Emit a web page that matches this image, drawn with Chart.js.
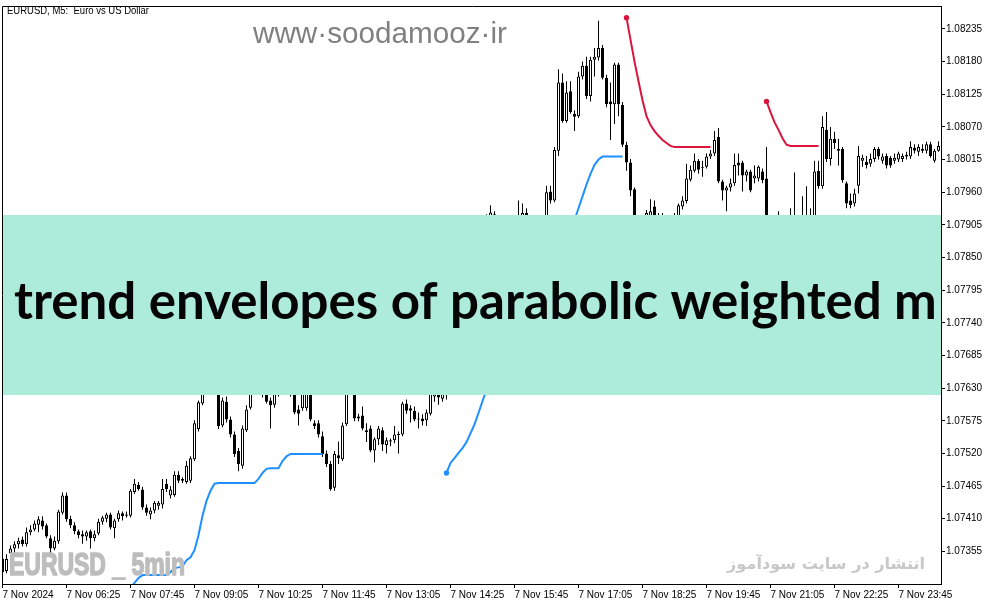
<!DOCTYPE html>
<html><head><meta charset="utf-8">
<script src="https://cdn.jsdelivr.net/npm/chart.js@4.4.1/dist/chart.umd.min.js"></script>
<style>html,body{margin:0;padding:0;background:#fff;overflow:hidden}canvas{display:block}</style>
</head><body>
<canvas id="c" width="994" height="605"></canvas>
<script>
// EURUSD M5, 7 Nov 2024, bars from 05:05 (index 0), 5 minutes each
const opens = [
 1.07343,1.07322,1.07352,1.07360,1.07367,1.07375,1.07367,1.07387,1.07392,1.07400,
 1.07407,1.07399,1.07377,1.07360,1.07372,1.07420,1.07449,1.07410,1.07399,1.07389,
 1.07384,1.07380,1.07389,1.07377,1.07385,1.07405,1.07410,1.07417,1.07394,1.07409,
 1.07419,1.07415,1.07415,1.07455,1.07467,1.07459,1.07429,1.07417,1.07424,1.07432,
 1.07434,1.07469,1.07449,1.07450,1.07484,1.07474,1.07472,1.07474,1.07510,1.07561,
 1.07604,1.07624,1.07654,1.07632,1.07641,1.07567,1.07607,1.07577,1.07552,1.07524,
 1.07499,1.07559,1.07597,1.07632,1.07657,1.07641,1.07624,1.07609,1.07602,1.07621,
 1.07637,1.07657,1.07632,1.07621,1.07594,1.07596,1.07596,1.07621,1.07571,1.07571,
 1.07549,1.07520,1.07502,1.07462,1.07517,1.07510,1.07569,1.07632,1.07632,1.07582,
 1.07584,1.07559,1.07562,1.07525,1.07544,1.07559,1.07534,1.07542,1.07542,1.07552,
 1.07552,1.07604,1.07596,1.07592,1.07577,1.07579,1.07576,1.07587,1.07616,1.07621,
 1.07612,1.07621,1.07654,1.07699,1.07682,1.07738,1.07774,1.07758,1.07804,1.07841,
 1.07821,1.07911,1.07920,1.07923,1.07911,1.07895,1.07874,1.07888,1.07905,1.07911,
 1.07916,1.07925,1.07913,1.07900,1.07911,1.07895,1.07905,1.07961,1.07946,1.08030,
 1.08145,1.08080,1.08130,1.08092,1.08088,1.08155,1.08173,1.08122,1.08183,1.08187,
 1.08203,1.08153,1.08113,1.08108,1.08175,1.08107,1.08040,1.08010,1.07965,1.07891,
 1.07866,1.07913,1.07911,1.07936,1.07918,1.07905,1.07915,1.07900,1.07911,1.07918,
 1.07936,1.07945,1.07981,1.07996,1.08013,1.08003,1.08003,1.08020,1.08025,1.08053,
 1.07978,1.07963,1.07968,1.07975,1.08010,1.08010,1.07988,1.07995,1.07983,1.07983,
 1.07995,1.07983,1.07891,1.07858,1.07881,1.07898,1.07874,1.07849,1.07898,1.07908,
 1.07883,1.07900,1.07891,1.07915,1.07996,1.07970,1.08065,1.08016,1.08050,1.08030,
 1.08033,1.07975,1.07946,1.07941,1.07971,1.08013,1.08011,1.08008,1.08016,1.08033,
 1.08013,1.08021,1.08018,1.08013,1.08015,1.08016,1.08023,1.08020,1.08035,1.08028,
 1.08030,1.08030,1.08041,1.08013,1.08030];
const highs = [
 1.07348,1.07350,1.07365,1.07372,1.07378,1.07380,1.07395,1.07399,1.07407,1.07414,
 1.07414,1.07402,1.07382,1.07380,1.07425,1.07454,1.07454,1.07415,1.07404,1.07392,
 1.07390,1.07390,1.07392,1.07390,1.07410,1.07415,1.07420,1.07420,1.07410,1.07424,
 1.07422,1.07422,1.07460,1.07477,1.07472,1.07464,1.07434,1.07429,1.07440,1.07440,
 1.07477,1.07477,1.07465,1.07490,1.07490,1.07480,1.07507,1.07515,1.07576,1.07609,
 1.07632,1.07666,1.07661,1.07654,1.07649,1.07614,1.07616,1.07582,1.07557,1.07529,
 1.07567,1.07601,1.07641,1.07666,1.07671,1.07649,1.07632,1.07614,1.07632,1.07649,
 1.07666,1.07666,1.07641,1.07627,1.07601,1.07627,1.07632,1.07627,1.07576,1.07576,
 1.07557,1.07525,1.07507,1.07524,1.07540,1.07572,1.07641,1.07657,1.07641,1.07587,
 1.07599,1.07571,1.07567,1.07547,1.07566,1.07564,1.07547,1.07545,1.07566,1.07557,
 1.07607,1.07611,1.07601,1.07599,1.07589,1.07586,1.07594,1.07632,1.07641,1.07632,
 1.07632,1.07666,1.07707,1.07711,1.07749,1.07788,1.07783,1.07821,1.07849,1.07854,
 1.07911,1.07923,1.07938,1.07928,1.07913,1.07900,1.07895,1.07911,1.07910,1.07946,
 1.07941,1.07933,1.07915,1.07913,1.07913,1.07913,1.07971,1.07971,1.08036,1.08167,
 1.08160,1.08147,1.08147,1.08098,1.08163,1.08180,1.08188,1.08188,1.08203,1.08249,
 1.08208,1.08158,1.08145,1.08178,1.08178,1.08112,1.08045,1.08016,1.07968,1.07900,
 1.07911,1.07930,1.07948,1.07946,1.07925,1.07925,1.07921,1.07918,1.07925,1.07941,
 1.07953,1.08008,1.08005,1.08025,1.08016,1.08013,1.08025,1.08031,1.08063,1.08068,
 1.07981,1.07971,1.07983,1.08025,1.08025,1.08013,1.07998,1.07998,1.08005,1.08005,
 1.08000,1.08036,1.07900,1.07900,1.07928,1.07905,1.07883,1.07933,1.07993,1.07911,
 1.07953,1.07970,1.07933,1.08013,1.08013,1.08088,1.08095,1.08070,1.08062,1.08050,
 1.08036,1.07978,1.07958,1.07966,1.08038,1.08023,1.08021,1.08025,1.08036,1.08036,
 1.08025,1.08025,1.08021,1.08025,1.08028,1.08025,1.08028,1.08046,1.08041,1.08041,
 1.08041,1.08045,1.08045,1.08033,1.08046];
const lows = [
 1.07315,1.07318,1.07347,1.07353,1.07360,1.07363,1.07363,1.07382,1.07389,1.07387,
 1.07392,1.07377,1.07345,1.07357,1.07368,1.07417,1.07405,1.07394,1.07384,1.07377,
 1.07368,1.07373,1.07360,1.07372,1.07382,1.07400,1.07404,1.07392,1.07377,1.07405,
 1.07407,1.07412,1.07412,1.07452,1.07457,1.07425,1.07415,1.07409,1.07419,1.07425,
 1.07427,1.07455,1.07444,1.07447,1.07470,1.07470,1.07469,1.07470,1.07507,1.07557,
 1.07601,1.07621,1.07624,1.07624,1.07561,1.07564,1.07572,1.07547,1.07514,1.07490,
 1.07494,1.07556,1.07594,1.07627,1.07634,1.07614,1.07604,1.07562,1.07597,1.07616,
 1.07632,1.07627,1.07616,1.07586,1.07567,1.07592,1.07592,1.07574,1.07561,1.07547,
 1.07514,1.07497,1.07457,1.07457,1.07502,1.07507,1.07566,1.07624,1.07574,1.07574,
 1.07559,1.07539,1.07522,1.07505,1.07534,1.07524,1.07520,1.07532,1.07537,1.07520,
 1.07549,1.07587,1.07572,1.07574,1.07562,1.07567,1.07566,1.07584,1.07607,1.07602,
 1.07607,1.07611,1.07649,1.07674,1.07677,1.07731,1.07744,1.07751,1.07794,1.07814,
 1.07816,1.07900,1.07915,1.07905,1.07888,1.07866,1.07861,1.07881,1.07891,1.07905,
 1.07911,1.07908,1.07891,1.07888,1.07885,1.07888,1.07900,1.07941,1.07943,1.08021,
 1.08077,1.08077,1.08092,1.08063,1.08085,1.08150,1.08117,1.08113,1.08155,1.08182,
 1.08150,1.08103,1.08048,1.08075,1.08088,1.08036,1.07996,1.07953,1.07883,1.07858,
 1.07861,1.07900,1.07905,1.07905,1.07895,1.07898,1.07891,1.07891,1.07888,1.07911,
 1.07931,1.07941,1.07978,1.07993,1.07991,1.07986,1.08000,1.08016,1.08021,1.07975,
 1.07946,1.07928,1.07961,1.07971,1.07988,1.07961,1.07978,1.07960,1.07975,1.07978,
 1.07975,1.07874,1.07841,1.07849,1.07874,1.07861,1.07838,1.07844,1.07888,1.07874,
 1.07878,1.07891,1.07883,1.07908,1.07966,1.07966,1.08011,1.08005,1.08033,1.08005,
 1.07976,1.07933,1.07933,1.07936,1.07958,1.08003,1.08000,1.08003,1.08011,1.08015,
 1.08008,1.08000,1.08001,1.08008,1.08011,1.08011,1.08015,1.08016,1.08025,1.08021,
 1.08026,1.08025,1.08018,1.08010,1.08028];
const closes = [
 1.07320,1.07342,1.07360,1.07367,1.07373,1.07367,1.07387,1.07392,1.07402,1.07409,
 1.07397,1.07380,1.07360,1.07373,1.07422,1.07449,1.07409,1.07399,1.07389,1.07382,
 1.07380,1.07387,1.07377,1.07384,1.07405,1.07412,1.07417,1.07395,1.07407,1.07419,
 1.07414,1.07417,1.07457,1.07469,1.07460,1.07429,1.07420,1.07424,1.07437,1.07437,
 1.07460,1.07460,1.07459,1.07484,1.07474,1.07477,1.07499,1.07512,1.07571,1.07606,
 1.07624,1.07657,1.07632,1.07644,1.07566,1.07609,1.07577,1.07552,1.07519,1.07502,
 1.07562,1.07594,1.07632,1.07657,1.07641,1.07624,1.07607,1.07601,1.07621,1.07641,
 1.07657,1.07632,1.07621,1.07589,1.07587,1.07621,1.07624,1.07577,1.07566,1.07552,
 1.07519,1.07502,1.07460,1.07519,1.07512,1.07567,1.07632,1.07649,1.07579,1.07579,
 1.07562,1.07556,1.07525,1.07544,1.07562,1.07535,1.07542,1.07540,1.07552,1.07551,
 1.07604,1.07592,1.07592,1.07577,1.07579,1.07574,1.07589,1.07624,1.07627,1.07614,
 1.07624,1.07657,1.07699,1.07682,1.07741,1.07774,1.07758,1.07808,1.07841,1.07821,
 1.07900,1.07920,1.07926,1.07915,1.07895,1.07874,1.07888,1.07905,1.07898,1.07918,
 1.07925,1.07916,1.07900,1.07911,1.07895,1.07908,1.07960,1.07946,1.08031,1.08145,
 1.08080,1.08128,1.08095,1.08087,1.08155,1.08173,1.08122,1.08183,1.08188,1.08203,
 1.08153,1.08108,1.08108,1.08175,1.08108,1.08040,1.08010,1.07963,1.07891,1.07866,
 1.07900,1.07925,1.07928,1.07913,1.07908,1.07915,1.07901,1.07911,1.07898,1.07938,
 1.07946,1.07983,1.07998,1.08013,1.07998,1.08001,1.08020,1.08025,1.08048,1.07978,
 1.07963,1.07968,1.07975,1.08006,1.08005,1.07988,1.07995,1.07963,1.07988,1.08003,
 1.07980,1.07891,1.07858,1.07883,1.07900,1.07874,1.07849,1.07900,1.07908,1.07883,
 1.07905,1.07911,1.07921,1.07995,1.07970,1.08070,1.08016,1.08050,1.08043,1.08033,
 1.07980,1.07941,1.07938,1.07958,1.08021,1.08018,1.08006,1.08016,1.08033,1.08020,
 1.08020,1.08005,1.08005,1.08018,1.08025,1.08021,1.08020,1.08036,1.08030,1.08036,
 1.08033,1.08041,1.08021,1.08030,1.08038];

// envelope segments: [first bar index, values]
const upEnvelope = [
 [31, [1.07285,1.07293,1.07302,1.07310,1.07315,1.07315,1.07315,1.07315,1.07315,1.07315,1.07315,
       1.07320,1.07327,1.07328,1.07330,1.07340,1.07345,1.07357,1.07382,1.07415,1.07440,1.07457,1.07469,
       1.07470,1.07470,1.07470,1.07470,1.07470,1.07470,1.07470,1.07470,1.07470,1.07470,
       1.07477,1.07487,1.07494,1.07495,1.07495,1.07495,1.07507,1.07515,
       1.07519,1.07519,1.07519,1.07519,1.07519,1.07519,1.07519,1.07519,1.07519]],
 [111, [1.07487,1.07504,1.07512,1.07521,1.07529,1.07539,1.07554,1.07569,1.07588,1.07608,
        1.07627,1.07649,1.07671,1.07691,1.07707,1.07721,1.07733,1.07744,1.07758,1.07771,
        1.07783,1.07791,1.07799,1.07808,1.07816,1.07828,1.07841,1.07854,1.07868,1.07881,
        1.07893,1.07903,1.07913,1.07933,1.07953,1.07973,1.07991,1.08006,1.08015,1.08020,
        1.08020,1.08020,1.08020,1.08020,1.08020]],
 [178, [1.07724,1.07740,1.07755,1.07770,1.07785,1.07800,1.07812,1.07822,1.07830,1.07836,1.07840,1.07842,1.07843]],
 [205, [1.07724,1.07740,1.07756,1.07770,1.07783,1.07795,1.07806,1.07816,1.07825,1.07833,
        1.07840,1.07847,1.07853,1.07859,1.07865,1.07870,1.07875,1.07880,1.07884,1.07888,
        1.07892,1.07895,1.07898,1.07900,1.07902,1.07905,1.07918,1.07918,1.07918,1.07918]]
];
const downEnvelope = [
 [81, [1.07724,1.07716,1.07707,1.07699,1.07691,1.07684,1.07679,
       1.07674,1.07674,1.07674,1.07674,1.07674,1.07674,1.07674,1.07674,1.07674,1.07674,1.07674,1.07674,
       1.07674,1.07674,1.07674,1.07674,1.07674,1.07674,1.07674,1.07674,1.07674,1.07674,1.07674]],
 [156, [1.08254,1.08217,1.08180,1.08147,1.08115,1.08088,1.08073,1.08063,1.08055,1.08048,1.08043,1.08038,
        1.08036,1.08036,1.08036,1.08036,1.08036,1.08036,1.08036,1.08036,1.08036,1.08036]],
 [191, [1.08113,1.08095,1.08078,1.08065,1.08051,1.08040,1.08038,1.08038,1.08038,1.08038,1.08038,1.08038,1.08038,1.08038]]
];

const priceTicks = [1.07355,1.07410,1.07465,1.07520,1.07575,1.07630,1.07685,1.07740,1.07795,
                    1.07850,1.07905,1.07960,1.08015,1.08070,1.08125,1.08180,1.08235];
const timeTickIndex = [0,16,32,48,64,80,96,112,128,144,160,176,192,208,224];
const timeTickLabels = ['7 Nov 2024','7 Nov 06:25','7 Nov 07:45','7 Nov 09:05','7 Nov 10:25',
  '7 Nov 11:45','7 Nov 13:05','7 Nov 14:25','7 Nov 15:45','7 Nov 17:05','7 Nov 18:25',
  '7 Nov 19:45','7 Nov 21:05','7 Nov 22:25','7 Nov 23:45'];

const N = opens.length;
const wickData = opens.map((o, i) => ({x: i, y: [lows[i], highs[i]]}));
const bodyData = opens.map((o, i) => ({x: i, y: [o, closes[i]]}));
const bodyFill = opens.map((o, i) => closes[i] >= o ? '#ffffff' : '#000000');

function buildLine(segs) {
  const vals = new Array(N).fill(null);
  const radius = new Array(N).fill(0);
  segs.forEach(([s, v]) => { v.forEach((p, k) => { vals[s + k] = p; }); radius[s] = 2.7; });
  return {data: vals.map((v, i) => ({x: i, y: v})), radius};
}
const up = buildLine(upEnvelope);
const dn = buildLine(downEnvelope);

const F = '"Liberation Sans", Arial, sans-serif';

const overlay = {
  id: 'overlay',
  afterDraw(chart) {
    const ctx = chart.ctx, a = chart.chartArea;
    ctx.save();
    // frame
    ctx.strokeStyle = '#000'; ctx.lineWidth = 1;
    ctx.beginPath();
    ctx.moveTo(a.left + 0.5, a.bottom);
    ctx.lineTo(a.left + 0.5, a.top - 0.5);
    ctx.lineTo(a.right + 1, a.top - 0.5);
    ctx.stroke();

    // title
    ctx.fillStyle = '#000'; ctx.textAlign = 'left'; ctx.textBaseline = 'alphabetic';
    let t = 'EURUSD, M5:  Euro vs US Dollar';
    ctx.font = '10px ' + F;
    let w = ctx.measureText(t).width;
    ctx.save(); ctx.translate(7, 14); ctx.scale(142 / w, 1); ctx.fillText(t, 0, 0); ctx.restore();

    // watermark www
    t = 'www\u00B7soodamooz\u00B7ir';
    ctx.font = '29px ' + F;
    w = ctx.measureText(t).width;
    ctx.font = (29 * 254 / w).toFixed(2) + 'px ' + F;
    ctx.fillStyle = '#808080';
    ctx.fillText(t, 253, 43);

    // EURUSD _ 5min
    t = 'EURUSD _ 5min';
    ctx.font = 'bold 30.5px ' + F;
    w = ctx.measureText(t).width;
    ctx.save();
    ctx.translate(9, 575);
    ctx.scale(176 / w, 1);
    ctx.fillStyle = '#bdbdbd';
    ctx.strokeStyle = '#bdbdbd';
    ctx.lineWidth = 1.6;
    ctx.lineJoin = 'round';
    ctx.strokeText(t, 0, 0);
    ctx.fillText(t, 0, 0);
    ctx.restore();

    // persian
    t = 'انتشار در سایت سودآموز';
    ctx.font = 'bold 20px "DejaVu Sans", sans-serif';
    ctx.direction = 'rtl';
    w = ctx.measureText(t).width;
    ctx.font = 'bold ' + (20 * 198 / w).toFixed(2) + 'px "DejaVu Sans", sans-serif';
    ctx.fillStyle = '#c8c8c8';
    ctx.textAlign = 'right';
    ctx.fillText(t, 925, 569);
    ctx.direction = 'ltr';
    ctx.textAlign = 'left';

    // banner
    ctx.fillStyle = '#ADEBDB';
    ctx.fillRect(3, 215, 938, 180);
    ctx.save();
    ctx.beginPath(); ctx.rect(3, 215, 938, 180); ctx.clip();
    t = 'trend envelopes of parabolic weighted m';
    const BF = 'Lato, "Open Sans", sans-serif';
    ctx.font = 'bold 44px ' + BF;
    w = ctx.measureText(t).width;
    ctx.font = 'bold ' + (44 * 923 / w).toFixed(2) + 'px ' + BF;
    ctx.fillStyle = '#050505';
    ctx.fillText(t, 14, 319);
    ctx.restore();

    ctx.restore();
  }
};

new Chart(document.getElementById('c'), {
  type: 'bar',
  data: {
    datasets: [
      {type: 'line', data: up.data, borderColor: '#1E90FF', backgroundColor: '#1E90FF', borderWidth: 2,
       pointRadius: up.radius, pointBorderWidth: 0, pointBackgroundColor: '#1E90FF', tension: 0, spanGaps: false, order: 0},
      {type: 'line', data: dn.data, borderColor: '#DC143C', backgroundColor: '#DC143C', borderWidth: 2,
       pointRadius: dn.radius, pointBorderWidth: 0, pointBackgroundColor: '#DC143C', tension: 0, spanGaps: false, order: 0},
      {type: 'bar', data: bodyData, backgroundColor: bodyFill, borderColor: '#000', borderWidth: 1,
       borderSkipped: false, grouped: false, maxBarThickness: 3, barPercentage: 1, categoryPercentage: 1,
       inflateAmount: 0, minBarLength: 1, order: 1},
      {type: 'bar', data: wickData, backgroundColor: '#000', borderWidth: 0, borderSkipped: false,
       grouped: false, maxBarThickness: 1, barPercentage: 1, categoryPercentage: 1, inflateAmount: 0, order: 2}
    ]
  },
  options: {
    responsive: false, animation: false, devicePixelRatio: 1, events: [],
    layout: {padding: {left: 2, top: 2, right: 0, bottom: 0}},
    plugins: {legend: {display: false}, tooltip: {enabled: false}},
    scales: {
      x: {
        type: 'linear', min: -0.125, max: 234.625, offset: false,
        afterBuildTicks: (s) => { s.ticks = timeTickIndex.map(v => ({value: v})); },
        afterFit: (s) => { s.height = 21; },
        ticks: {autoSkip: false, maxRotation: 0, minRotation: 0, align: 'start', padding: 1,
                color: '#000', font: {family: F, size: 10},
                callback: (v) => { const k = timeTickIndex.indexOf(v); return k >= 0 ? timeTickLabels[k] : ''; }},
        grid: {display: true, drawOnChartArea: false, drawTicks: true, tickLength: 4, color: '#000', offset: false},
        border: {display: true, color: '#000', width: 1}
      },
      y: {
        type: 'linear', position: 'right', min: 1.07300, max: 1.08272, stacked: false,
        afterBuildTicks: (s) => { s.ticks = priceTicks.map(v => ({value: v})); },
        afterFit: (s) => { s.width = 53; },
        ticks: {autoSkip: false, padding: 1, color: '#000', font: {family: F, size: 10},
                callback: (v) => v.toFixed(5)},
        grid: {display: true, drawOnChartArea: false, drawTicks: true, tickLength: 4, color: '#000'},
        border: {display: true, color: '#000', width: 1}
      }
    }
  },
  plugins: [overlay]
});
</script>
</body></html>
